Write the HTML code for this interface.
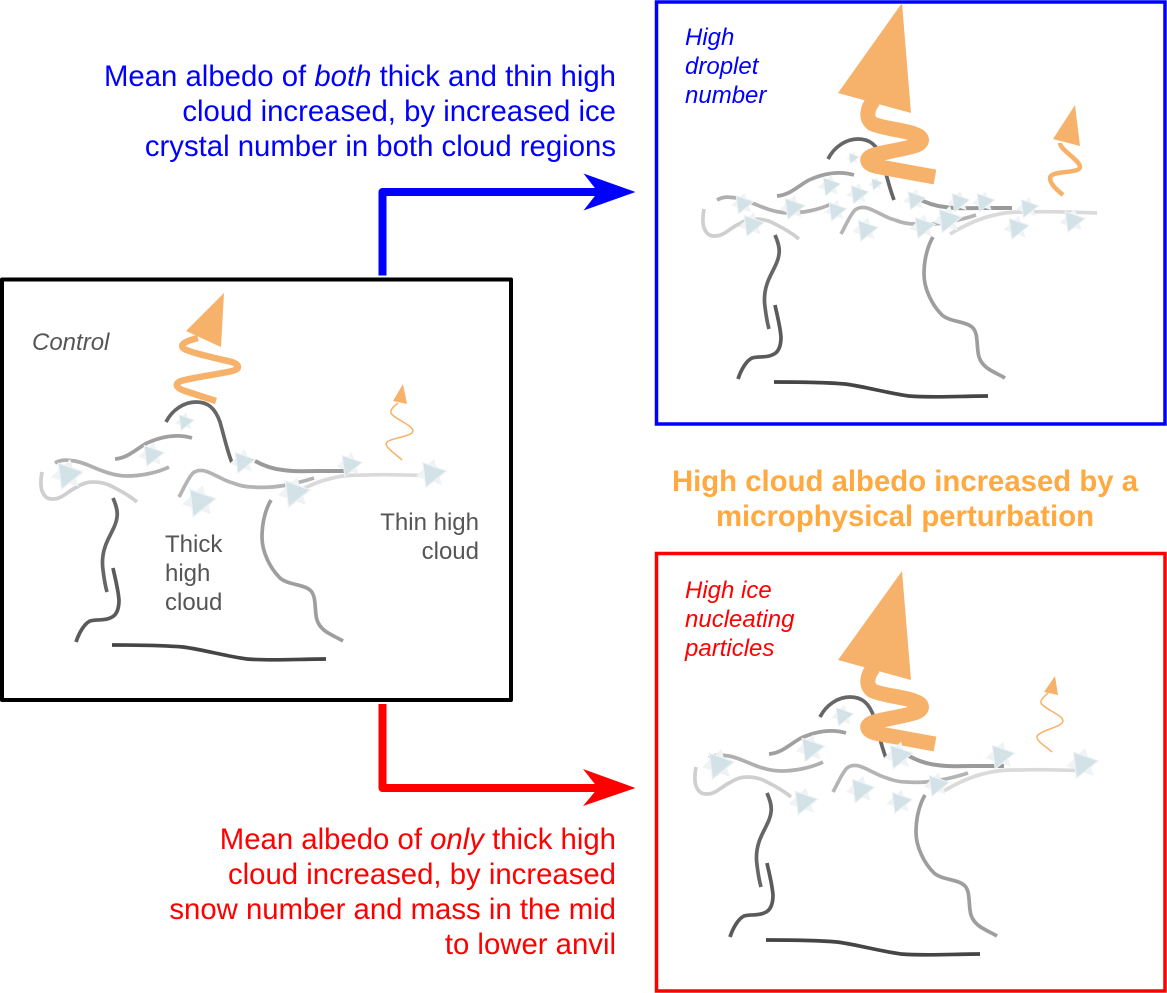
<!DOCTYPE html>
<html><head><meta charset="utf-8">
<style>html,body{margin:0;padding:0;background:#fff}svg{display:block}
text{font-family:"Liberation Sans",sans-serif}</style></head>
<body>
<svg xmlns="http://www.w3.org/2000/svg" width="1167" height="993" viewBox="0 0 1167 993">
<defs>
<g id="star">
<polygon points="-9,-11 14,-3 -6,13" fill="#eff3f5" stroke="#eff3f5" stroke-width="2.500"/>
<polygon points="2,-15 -16,2 10,11" fill="#eff3f5" stroke="#eff3f5" stroke-width="1"/>
<polygon points="-9,-11 14,-3 -6,13" fill="#d3e2e7"/>
</g>
<g id="cloud" fill="none" stroke-width="3.700">
<path d="M166 422C172 410 184 402 196 402C208 402 215 408 220 422C224 436 227 450 232 463" stroke="#666"/>
<path d="M115 459C128 458 136 449 147 443C158 438 175 433 192 438" stroke="#a0a0a0"/>
<path d="M55 463C62 459 68 460 75 461C85 463 92 467 100 470C110 474 118 476 127 476C140 476 157 473 169 467" stroke="#b0b0b0"/>
<path d="M42 472C40 482 41 490 43 493C46 499 50 499 53 499C62 499 68 491 77 487C83 483 88 482 93 482C102 482 108 484 113 487C121 491 130 496 137 502" stroke="#cfcfcf"/>
<path d="M179 497C184 488 188 478 193 473C197 470 201 470 205 471C215 474 224 481 233 483C240 486 246 487 253 487C264 488 276 487 287 485C297 483 305 481 314 478" stroke="#b4b4b4"/>
<path d="M255 461C264 466 273 469 283 470C294 472 305 471 317 471C328 471 339 471 350 471" stroke="#9a9a9a" stroke-width="4"/>
<path d="M288 497C303 488 318 481 333 478C344 475 355 475 367 475C390 474 412 475 435 476" stroke="#dadada"/>
<path d="M113 498C116 505 118 511 117 517C116 527 108 537 105 547C102 556 102 563 103 570C104 578 105 585 107 592" stroke="#666"/>
<path d="M113 568C115 578 118 588 119 600C119 610 116 616 110 618C104 621 96 619 90 621C84 624 79 633 76 642" stroke="#5a5a5a"/>
<path d="M271 500C265 510 262 524 262 537C262 552 270 568 280 578C288 585 303 584 310 590C317 596 314 610 317 620C321 632 333 635 343 641" stroke="#9e9e9e"/>
<path d="M112 645C135 645 160 645 183 647C205 650 225 656 247 659C272 661 300 659 326 659" stroke="#454545"/>
</g>
</defs>

<!-- connectors -->
<g fill="none" stroke-width="8" stroke-linejoin="round">
<path d="M382.500 275.500V192H600" stroke="#0000ff"/>
<path d="M382.500 704V788H600" stroke="#ff0000"/>
</g>
<polygon points="635.500,192 583.500,173.500 598,192 583.500,210.500" fill="#0000ff"/>
<polygon points="635.500,788 583,769 598,788 583,806" fill="#ff0000"/>

<!-- frames -->
<rect x="2" y="279.500" width="509" height="420.500" fill="none" stroke="#000" stroke-width="4" stroke-linejoin="round"/>
<rect x="656.500" y="2" width="508.500" height="422" fill="none" stroke="#0000ff" stroke-width="3.500"/>
<rect x="656.500" y="553.500" width="508.500" height="437.500" fill="none" stroke="#ff0000" stroke-width="3.500"/>

<!-- control panel -->
<use href="#cloud"/>
<use href="#star" transform="translate(185 422) scale(.6)"/>
<use href="#star" transform="translate(152 455) scale(.8)"/>
<use href="#star" transform="translate(68 475) scale(1)"/>
<use href="#star" transform="translate(200 502) scale(1.050)"/>
<use href="#star" transform="translate(243 462) scale(.8)"/>
<use href="#star" transform="translate(295 493) scale(1)"/>
<use href="#star" transform="translate(350 465) scale(.8)"/>
<use href="#star" transform="translate(432 474) scale(.95)"/>
<polygon points="224,293 186,331 221,347" fill="#f6b26b"/>
<path d="M198 338C186 341 180 344 183 348C187 352 215 358 232 362C240 365 240 369 232 371C215 375 195 377 181 381C174 384 176 388 185 391L216 401" fill="none" stroke="#f6b26b" stroke-width="6.500"/>
<polygon points="403,384 393,401 407,404" fill="#f6b26b"/>
<path d="M398 403C393 407 390 410 391 413C394 419 413 425 413 431C413 437 386 438 386 444C387 449 397 455 402 460" fill="none" stroke="#f6b26b" stroke-width="1.500"/>

<!-- blue panel -->
<use href="#cloud" transform="translate(662 -263)"/>
<polygon points="902,3 838,93 911,113" fill="#f6b26b"/>
<path d="M874 100C867 108 865 119 873 124C885 129 905 130 914 134C924 137 924 143 914 146C900 150 885 152 874 155C864 158 866 165 880 167L935 177" fill="none" stroke="#f6b26b" stroke-width="15"/>
<polygon points="1075,105 1053,139 1080,146" fill="#f6b26b"/>
<path d="M1060 143C1060 150 1080 160 1080 167C1080 174 1050 170 1050 178C1050 184 1057 190 1063 195" fill="none" stroke="#f6b26b" stroke-width="4.500"/>
<use href="#star" transform="translate(853 158) scale(.4)"/>
<use href="#star" transform="translate(830 186) scale(.7)"/>
<use href="#star" transform="translate(858 194) scale(.7)"/>
<use href="#star" transform="translate(876 184) scale(.45)"/>
<use href="#star" transform="translate(743 204) scale(.7)"/>
<use href="#star" transform="translate(752 225) scale(.8)"/>
<use href="#star" transform="translate(793 208) scale(.8)"/>
<use href="#star" transform="translate(836 211) scale(.7)"/>
<use href="#star" transform="translate(866 230) scale(.8)"/>
<use href="#star" transform="translate(915 200) scale(.7)"/>
<use href="#star" transform="translate(923 227) scale(.8)"/>
<use href="#star" transform="translate(948 220) scale(.9)"/>
<use href="#star" transform="translate(959 202) scale(.7)"/>
<use href="#star" transform="translate(984 202) scale(.7)"/>
<use href="#star" transform="translate(1028 208) scale(.7)"/>
<use href="#star" transform="translate(1017 228) scale(.8)"/>
<use href="#star" transform="translate(1073 221) scale(.8)"/>

<!-- red panel -->
<use href="#cloud" transform="translate(654 295)"/>
<polygon points="902,571 838,660 911,680" fill="#f6b26b"/>
<path d="M874 667C867 675 865 686 873 691C885 696 905 697 914 701C924 704 924 710 914 713C900 717 885 719 874 722C864 725 866 732 880 734L935 744" fill="none" stroke="#f6b26b" stroke-width="15"/>
<polygon points="1055,676 1044,692 1058,695" fill="#f6b26b"/>
<path d="M1048 693C1044 697 1040 700 1041 703C1044 709 1063 715 1063 721C1063 727 1037 731 1037 737C1037 742 1047 747 1052 752" fill="none" stroke="#f6b26b" stroke-width="1.500"/>
<use href="#star" transform="translate(843 716) scale(.7)"/>
<use href="#star" transform="translate(811 749) scale(.9)"/>
<use href="#star" transform="translate(719 765) scale(1)"/>
<use href="#star" transform="translate(804 802) scale(.9)"/>
<use href="#star" transform="translate(861 790) scale(.9)"/>
<use href="#star" transform="translate(900 802) scale(.8)"/>
<use href="#star" transform="translate(899 756) scale(.9)"/>
<use href="#star" transform="translate(937 785) scale(.8)"/>
<use href="#star" transform="translate(1001 756) scale(.9)"/>
<use href="#star" transform="translate(1083 764) scale(1)"/>

<!-- text -->
<g font-size="29.330" fill="#0000ff" text-anchor="end">
<text x="616" y="86">Mean albedo of <tspan font-style="italic">both</tspan> thick and thin high</text>
<text x="616" y="121">cloud increased, by increased ice</text>
<text x="616" y="156">crystal number in both cloud regions</text>
</g>
<g font-size="29.330" fill="#ff0000" text-anchor="end">
<text x="616" y="849">Mean albedo of <tspan font-style="italic">only</tspan> thick high</text>
<text x="616" y="884">cloud increased, by increased</text>
<text x="616" y="919">snow number and mass in the mid</text>
<text x="616" y="954">to lower anvil</text>
</g>
<g font-size="29.330" font-weight="bold" fill="#ffa940" text-anchor="middle">
<text x="905" y="491">High cloud albedo increased by a</text>
<text x="905" y="526">microphysical perturbation</text>
</g>
<g font-size="24" font-style="italic" fill="#0000ff">
<text x="685" y="45">High</text>
<text x="685" y="74">droplet</text>
<text x="685" y="103">number</text>
</g>
<g font-size="24" font-style="italic" fill="#ff0000">
<text x="685" y="598">High ice</text>
<text x="685" y="627">nucleating</text>
<text x="685" y="656">particles</text>
</g>
<text x="32" y="350" font-size="24" font-style="italic" fill="#555">Control</text>
<g font-size="24" fill="#555">
<text x="165" y="552">Thick</text>
<text x="165" y="581">high</text>
<text x="165" y="610">cloud</text>
<text x="479" y="530" text-anchor="end">Thin high</text>
<text x="479" y="559" text-anchor="end">cloud</text>
</g>
</svg>
</body></html>
